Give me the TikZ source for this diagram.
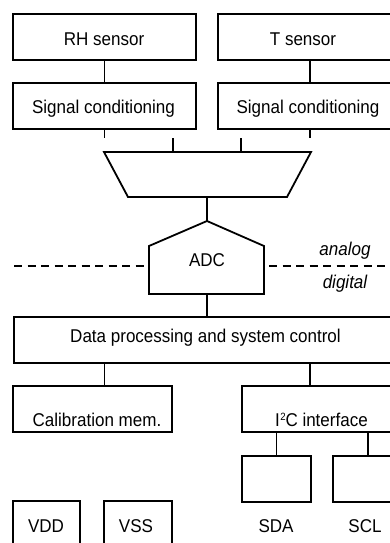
\documentclass[tikz,border=0pt]{standalone}
\usepackage{fontspec}
\setmainfont{Liberation Sans}[FakeStretch=0.92]
\begin{document}
\begin{tikzpicture}[x=1pt,y=-1pt,
  line width=1.8pt,
  box/.style={draw,rectangle,inner sep=0pt,outer sep=0pt,minimum height=46pt},
  lbl/.style={inner sep=0pt,anchor=base,font=\fontsize{18.5}{22}\selectfont},
  dashline/.style={dash pattern=on 8pt off 5.5pt}]
\useasboundingbox (0,0) rectangle (390,543);
\clip (0,0) rectangle (390,543);
% boxes
\node[box,minimum width=183pt] (rh)  at (104.5,37) {};
\node[box,minimum width=184pt] (ts)  at (310,37) {};
\node[box,minimum width=183pt] (sc1) at (104.5,106) {};
\node[box,minimum width=184pt] (sc2) at (310,106) {};
\node[box,minimum width=386pt] (dp)  at (207,340) {};
\node[box,minimum width=159pt] (cal) at (92.5,409) {};
\node[box,minimum width=158pt] (i2c) at (321,409) {};
\node[box,minimum width=69pt]  (sda) at (276.5,479) {};
\node[box,minimum width=70pt]  (scl) at (368,479) {};
\node[box,minimum width=67pt,minimum height=59pt] (vdd) at (46.5,530.5) {};
\node[box,minimum width=68pt,minimum height=59pt] (vss) at (138,530.5) {};
% mux and ADC
\coordinate (muxtl) at (104,152);
\coordinate (muxtr) at (311,152);
\coordinate (muxbl) at (128,197);
\coordinate (muxbr) at (287,197);
\coordinate (muxa) at (173,152);
\coordinate (muxb) at (241,152);
\coordinate (muxo) at (207,197);
\draw (muxtl) -- (muxtr) -- (muxbr) -- (muxbl) -- cycle;
\coordinate (adctop) at (207,221);
\coordinate (adcl) at (149,246);
\coordinate (adcr) at (264,246);
\coordinate (adcbl) at (149,294);
\coordinate (adcbr) at (264,294);
\coordinate (adcbot) at (207,294);
\coordinate (adcml) at (149,266);
\coordinate (adcmr) at (269,266);
\draw (adctop) -- (adcr) -- (adcbr) -- (adcbl) -- (adcl) -- cycle;
% connectors
\draw (rh.south) -- (sc1.north);
\draw (ts.south) -- (sc2.north);
\draw (sc1.south) -- ++(0,9);
\draw (sc2.south) -- ++(0,9);
\draw (muxa) -- ++(0,-14);
\draw (muxb) -- ++(0,-14);
\draw (muxo) -- (adctop);
\draw (adcbot) -- (dp.north);
\draw (dp.south -| rh.south) -- (cal.north -| rh.south);
\draw (dp.south -| ts.south) -- (i2c.north -| ts.south);
\draw (i2c.south -| sda.north) -- (sda.north);
\draw (i2c.south -| scl.north) -- (scl.north);
% analog/digital boundary
\coordinate (dl) at (14,266);
\coordinate (dr) at (395,266);
\draw[dashline] (dl) -- (adcml);
\draw[dashline] (adcmr) -- (dr);
% labels
\node[lbl] (trh)  at (104,46) {RH sensor};
\node[lbl] (tts)  at (303,46) {T sensor};
\node[lbl] (tsc1) at (103.5,113) {Signal conditioning};
\node[lbl] (tsc2) at (308,113) {Signal conditioning};
\node[lbl] (tadc) at (207,266) {ADC};
\node[lbl,font=\fontsize{18.5}{22}\selectfont\itshape] (tana) at (345,255) {analog};
\node[lbl,font=\fontsize{18.5}{22}\selectfont\itshape] (tdig) at (345,288) {digital};
\node[lbl] (tdp)  at (205.5,342) {Data processing and system control};
\node[lbl] (tcal) at (97,426) {Calibration mem.};
\node[lbl] (ti2c) at (321.5,426) {I\kern0.5pt\raisebox{6pt}{\fontsize{10.5}{12}\selectfont 2}\kern-0.3pt C interface};
\node[lbl] (tvdd) at (46,532) {VDD};
\node[lbl] (tvss) at (136,532) {VSS};
\node[lbl] (tsda) at (276,532) {SDA};
\node[lbl] (tscl) at (365,532) {SCL};
\end{tikzpicture}
\end{document}
